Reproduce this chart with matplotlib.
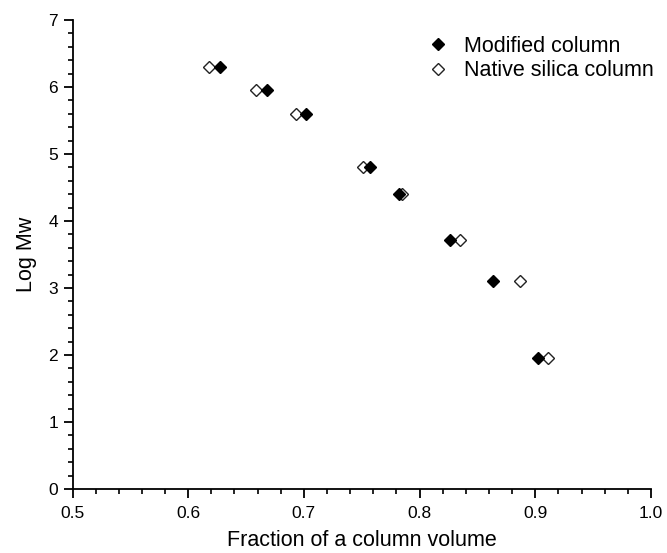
import matplotlib
matplotlib.use("Agg")
import matplotlib.pyplot as plt
from matplotlib.ticker import MultipleLocator

plt.rcParams['font.family'] = ['Liberation Sans', 'DejaVu Sans']

# Elution position (fraction of column volume) vs. log molecular weight
log_mw = [6.30, 5.955, 5.60, 4.81, 4.40, 3.72, 3.11, 1.95]
modified_x = [0.6275, 0.6684, 0.7016, 0.7570, 0.7820, 0.8263, 0.8637, 0.9026]
native_x = [0.6180, 0.6583, 0.6929, 0.7513, 0.7850, 0.8349, 0.8868, 0.9112]

series_labels = ["Modified column", "Native silica column"]
x_label = "Fraction of a column volume"
y_label = "Log Mw"

fig = plt.figure(figsize=(6.67, 5.53), dpi=100)
ax = fig.add_axes([72.5 / 667, 64 / 553, (651 - 72.5) / 667, (489 - 20) / 553])

ax.plot(native_x, log_mw, linestyle='none', marker='D', ms=6.0,
        mfc='white', mec='#222222', mew=1.0, label=series_labels[1], zorder=3)
ax.plot(modified_x, log_mw, linestyle='none', marker='D', ms=6.0,
        mfc='black', mec='black', mew=1.0, label=series_labels[0], zorder=4)

ax.set_xlim(0.5, 1.0)
ax.set_ylim(0, 7)
ax.xaxis.set_major_locator(MultipleLocator(0.1))
ax.xaxis.set_minor_locator(MultipleLocator(0.02))
ax.yaxis.set_major_locator(MultipleLocator(1))
ax.yaxis.set_minor_locator(MultipleLocator(0.2))
ax.xaxis.set_major_formatter(plt.FormatStrFormatter('%.1f'))

for side in ('top', 'right'):
    ax.spines[side].set_visible(False)
for side in ('left', 'bottom'):
    ax.spines[side].set_linewidth(1.3)

ax.tick_params(which='major', direction='out', length=6.5, width=1.3,
               labelsize=12.5, pad=4)
ax.tick_params(axis='x', which='major', pad=6)
ax.tick_params(which='minor', direction='out', length=3.5, width=1.2)

ax.set_xlabel(x_label, fontsize=15.5, labelpad=6)
ax.set_ylabel(y_label, fontsize=15.5, labelpad=8)

handles, labels = ax.get_legend_handles_labels()
leg = ax.legend(handles[::-1], labels[::-1], loc='upper left',
                bbox_to_anchor=(427 / 667, 1 - 36 / 553),
                bbox_transform=fig.transFigure, frameon=False,
                numpoints=1, handlelength=1.0, handletextpad=0.7,
                labelspacing=0.15, borderpad=0, borderaxespad=0,
                fontsize=15.5)

fig.savefig("out.png", dpi=100)
